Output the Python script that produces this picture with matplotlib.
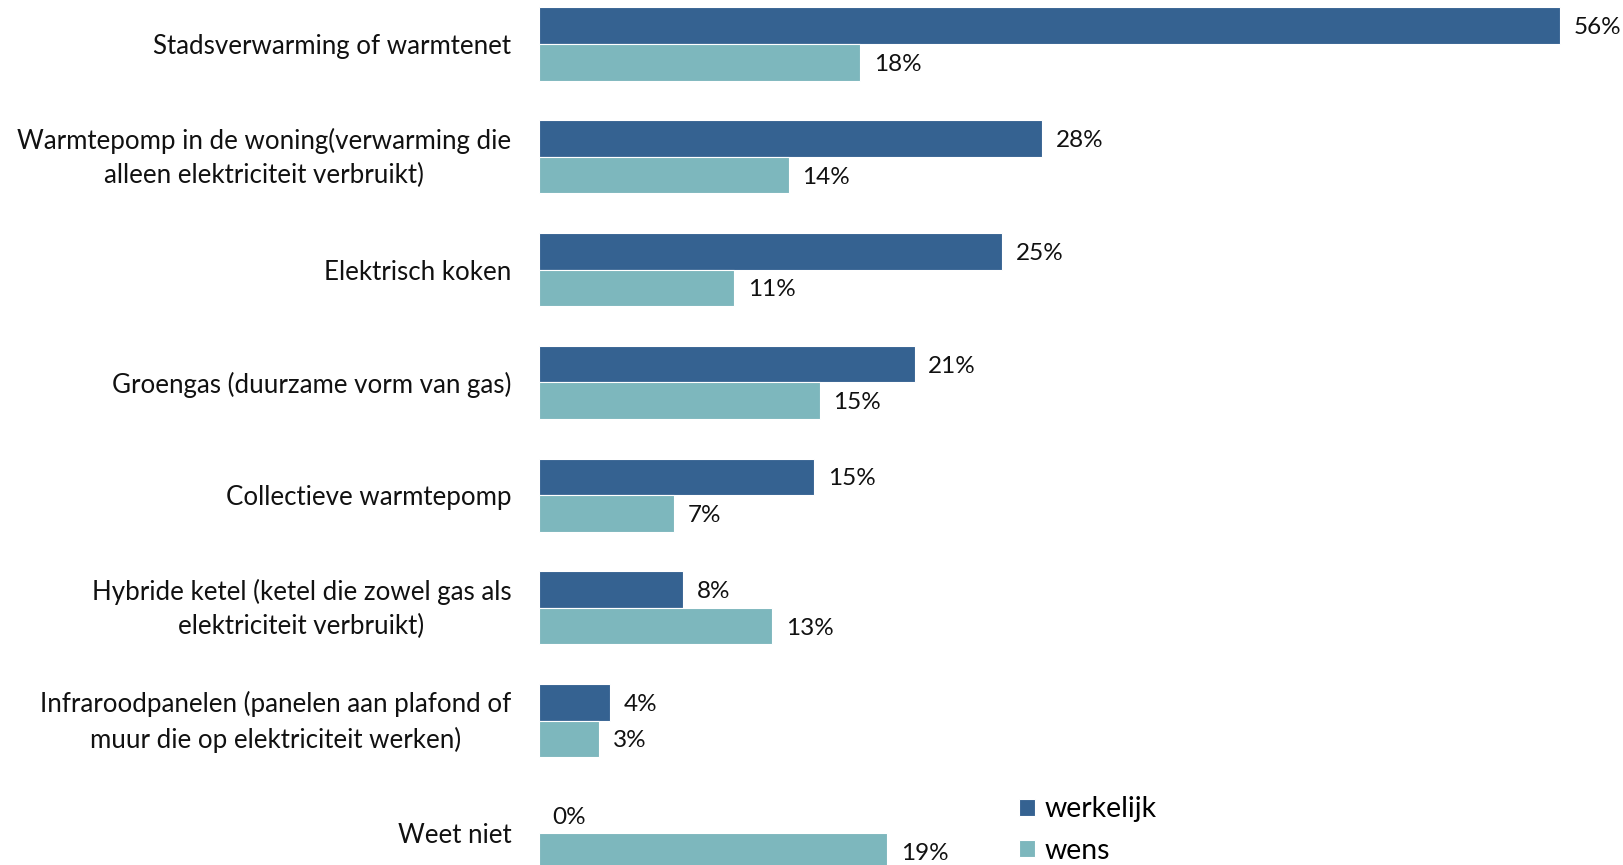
import matplotlib.pyplot as plt
import numpy as np

# ---------------------------------------------------------------------
# Data
# ---------------------------------------------------------------------
categories = [
    "Stadsverwarming of warmtenet",
    "Warmtepomp in de woning(verwarming die\nalleen elektriciteit verbruikt)",
    "Elektrisch koken",
    "Groengas (duurzame vorm van gas)",
    "Collectieve warmtepomp",
    "Hybride ketel (ketel die zowel gas als\nelektriciteit verbruikt)",
    "Infraroodpanelen (panelen aan plafond of\nmuur die op elektriciteit werken)",
    "Weet niet",
]
werkelijk = [56.0, 27.6, 25.4, 20.6, 15.1, 7.9, 3.9, 0.0]
wens = [17.6, 13.7, 10.7, 15.4, 7.4, 12.8, 3.3, 19.1]
series_names = ["werkelijk", "wens"]
colors = ["#356291", "#7DB7BD"]

plt.rcParams["font.family"] = ["Lato", "DejaVu Sans"]

# ---------------------------------------------------------------------
# Figure
# ---------------------------------------------------------------------
fig = plt.figure(figsize=(16.24, 8.65), dpi=100)
ax = fig.add_axes([539 / 1624, 0, 1 - 539 / 1624, 1])

y = np.arange(len(categories))
h = 0.324
bars = []
for k, (vals, col, name) in enumerate(zip([werkelijk, wens], colors, series_names)):
    offs = -h / 2 if k == 0 else h / 2
    b = ax.barh(y + offs, vals, height=h, color=col, edgecolor="white",
                linewidth=0.8, label=name)
    bars.append(b)
    for yi, v in zip(y + offs, vals):
        ax.text(v + 0.75, yi, f"{v:.0f}%", va="center_baseline", ha="left",
                fontsize=17.5, color="#111111")

# category labels (multi-line ones nudged up a little)
for yi, lab in zip(y, categories):
    dy = 4.5 if "\n" in lab else 0
    ax.annotate(lab, xy=(0, yi), xycoords=("axes fraction", "data"),
                xytext=(-20, dy), textcoords="offset points",
                ha="right", va="center_baseline", multialignment="center",
                linespacing=1.47, fontsize=18.6, color="#111111")

ax.set_xlim(0, 59.5)
ax.set_ylim(7.28, -0.39)
ax.set_yticks([])
ax.set_xticks([])
for s in ax.spines.values():
    s.set_visible(False)

fig.legend(handles=bars, labels=series_names, loc="upper left",
           bbox_to_anchor=(1008 / 1624, 1 - 785 / 865), frameon=False,
           fontsize=20.4, handlelength=0.55, handleheight=0.55,
           handletextpad=0.33, labelspacing=0.55, borderaxespad=0)

fig.savefig("out.png", dpi=100)
